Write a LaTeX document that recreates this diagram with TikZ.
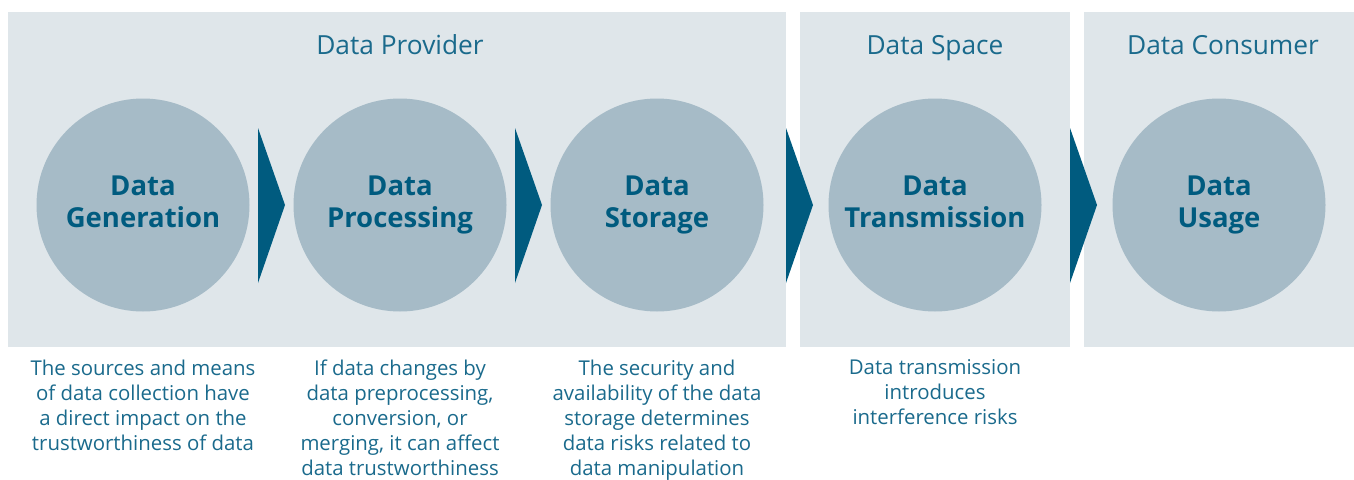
\documentclass[tikz,border=0pt]{standalone}
\usepackage{fontspec}
\setmainfont{Open Sans}
\definecolor{panelbg}{HTML}{DFE6EA}
\definecolor{stagefill}{HTML}{A6BBC7}
\definecolor{deepblue}{HTML}{005B7F}
\definecolor{textblue}{HTML}{1A6A8C}
\begin{document}
\begin{tikzpicture}[x=1pt,y=-1pt,
  panel/.style={fill=panelbg,draw=none},
  stage/.style={circle,fill=stagefill,draw=none,minimum size=213pt,inner sep=0pt,
    text=deepblue,font=\fontsize{27.5}{32.5}\selectfont\bfseries,align=center},
  heading/.style={text=textblue,font=\fontsize{26.3}{30}\selectfont,anchor=base},
  note/.style={text=textblue,font=\fontsize{20.4}{25}\selectfont,align=center,anchor=north},
  chevron/.style={fill=deepblue,draw=none}]
\useasboundingbox (0,0) rectangle (1354,479);
% background panels
\fill[panel] (8,12) rectangle (786,347);
\fill[panel] (800,12) rectangle (1070,347);
\fill[panel] (1084,12) rectangle (1354,347);
% panel headings
\node[heading] (hprov) at (400,54) {Data Provider};
\node[heading] (hspace) at (935,54) {Data Space};
\node[heading] (hcons) at (1223,54) {Data Consumer};
% stages (phantom g keeps every second line at the same depth)
\node[stage] (gen) at (143,205) {Data\\Generation\vphantom{g}};
\node[stage] (proc) at (400,205) {Data\\Processing};
\node[stage] (stor) at (657,205) {Data\\Storage};
\node[stage] (trans) at (935,205) {Data\\Transmission\vphantom{g}};
\node[stage] (use) at (1219,205) {Data\\Usage};
% chevrons between stages
\foreach \x in {258,515,786,1070}
  \fill[chevron] (\x,128) -- (\x+27,205) -- (\x,283) -- cycle;
% descriptions
\node[note] (dgen) at (143,356) {The sources and means\\of data collection have\\a direct impact on the\\trustworthiness of data};
\node[note] (dproc) at (400,356) {If data changes by\\data preprocessing,\\conversion, or\\merging, it can affect\\data trustworthiness};
\node[note] (dstor) at (657,356) {The security and\\availability of the data\\storage determines\\data risks related to\\data manipulation};
\node[note] (dtrans) at (935,356) {Data transmission\\introduces\\interference risks};
\end{tikzpicture}
\end{document}
